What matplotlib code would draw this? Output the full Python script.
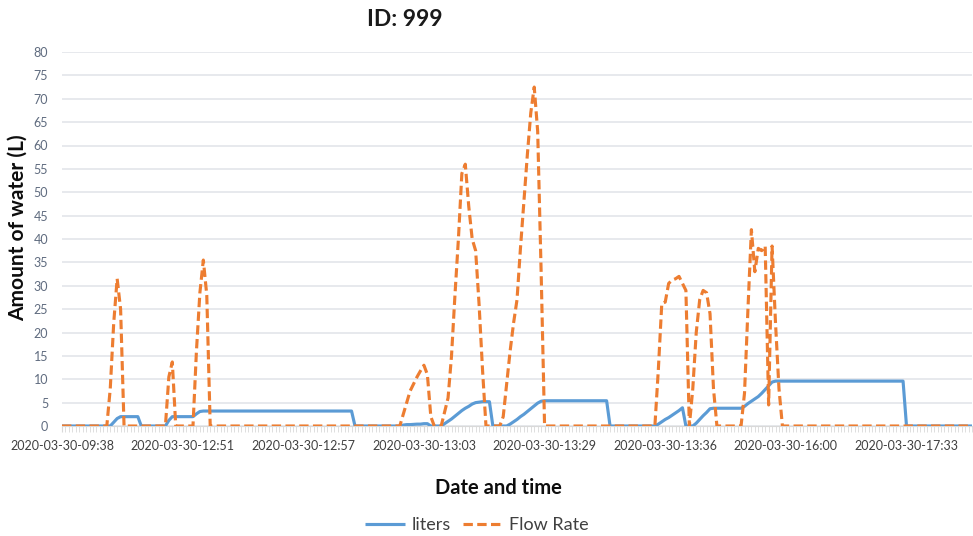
import matplotlib
matplotlib.use('Agg')
from matplotlib import pyplot as plt
from matplotlib.ticker import MultipleLocator
import numpy as np

# readings, one per logged sample (category axis, not real time spacing)
liters = ([0] * 15 + [0.8, 1.6, 2.0] + [2.0] * 5 + [0] * 8 + [1.2, 2.0] + [2.0] * 6
          + [2.6, 3.1, 3.2] + [3.2] * 43 + [0] * 13
          + [0, 0.2, 0.3, 0.3, 0.35, 0.4, 0.4, 0.5, 0.5] + [0] * 4
          + [0.5, 1.0, 1.5, 2.1, 2.7, 3.3, 3.8, 4.2, 4.7, 5.0, 5.1, 5.2, 5.2, 5.2] + [0] * 5
          + [0.4, 0.9, 1.4, 2.0, 2.5, 3.1, 3.7, 4.3, 4.9, 5.3] + [5.4] * 19 + [0] * 14
          + [0.4, 0.9, 1.4, 1.8, 2.3, 2.8, 3.3, 3.9] + [0] * 3
          + [0.6, 1.4, 2.2, 2.9, 3.7] + [3.8] * 9
          + [4.2, 4.8, 5.3, 5.8, 6.3, 7.0, 7.8, 8.6, 9.4] + [9.6] * 38 + [0] * 20)

flow_rate = ([0] * 14 + [8, 22, 31.5, 25] + [0] * 13 + [10.5, 13.7] + [0] * 6
             + [16, 28.5, 35.5, 28] + [0] * 55
             + [0, 2.5, 5, 7.5, 9, 10.5, 11.8, 13, 11, 2] + [0] * 3
             + [3, 6, 15, 28, 40, 54, 56, 47, 40, 37.5, 26, 12] + [0] * 5
             + [2, 9, 16, 22, 27, 38, 48, 58, 67, 72.5, 63, 33] + [0] * 32
             + [0, 12, 26.2, 26.5, 30.5, 31.2, 31.5, 32, 30.5, 29]
             + [0, 8, 20, 27, 29, 28.5, 24, 8] + [0] * 7
             + [0, 7, 25, 42, 33, 38, 37.5, 38.5, 4.5, 38.5, 22, 8] + [0] * 56)

tick_labels = ['2020-03-30-09:38', '2020-03-30-12:51', '2020-03-30-12:57', '2020-03-30-13:03',
               '2020-03-30-13:29', '2020-03-30-13:36', '2020-03-30-16:00', '2020-03-30-17:33']
label_every = 35

plt.rcParams['font.family'] = ['Lato', 'DejaVu Sans']

x = np.arange(len(liters))

fig = plt.figure(figsize=(9.73, 5.36), dpi=100)
ax = fig.add_axes([62 / 973, 110 / 536, 910 / 973, 374 / 536])

ax.plot(x, liters, color='#5B9BD5', lw=2.25, label='liters',
        solid_joinstyle='round', solid_capstyle='butt', zorder=3)
ax.plot(x, flow_rate, color='#ED7D31', lw=2.25, linestyle=(0, (3.0, 1.4)),
        label='Flow Rate', zorder=4)

ax.set_xlim(0, len(x) - 1)
ax.set_ylim(0, 80)
ax.yaxis.set_major_locator(MultipleLocator(5))
ax.grid(axis='y', color='#E3E5EA', lw=1.2, zorder=0)
ax.set_axisbelow(True)

ax.set_xticks(np.arange(len(tick_labels)) * label_every)
ax.set_xticklabels(tick_labels)
ax.set_xticks(x, minor=True)
ax.tick_params(axis='x', which='major', length=4, color='#D9D9D9', pad=6,
               labelsize=9, labelcolor='#404040')
ax.tick_params(axis='x', which='minor', length=4, color='#D9D9D9')
ax.tick_params(axis='y', length=0, pad=10, labelsize=9, labelcolor='#5F6B7F')

for s in ['top', 'right', 'left']:
    ax.spines[s].set_visible(False)
ax.spines['bottom'].set_color('#D9D9D9')

fig.text(405 / 973, 1 - 20 / 536, 'ID: 999', ha='center', va='center',
         fontsize=16.5, fontweight='bold', color='#1A1A1A')
fig.text(18 / 973, 1 - 228 / 536, 'Amount of water (L)', rotation=90, ha='center',
         va='center', fontsize=15, fontweight='bold', color='#0D0D0D')
fig.text(498 / 973, 1 - 488 / 536, 'Date and time', ha='center', va='center',
         fontsize=14.5, fontweight='bold', color='#0D0D0D')

fig.legend(loc='center', bbox_to_anchor=(477 / 973, 1 - 525 / 536), ncol=2,
           frameon=False, fontsize=13, handlelength=2.2, handletextpad=0.35,
           columnspacing=0.7, labelcolor='#404040')

fig.savefig('out.png', dpi=100)
